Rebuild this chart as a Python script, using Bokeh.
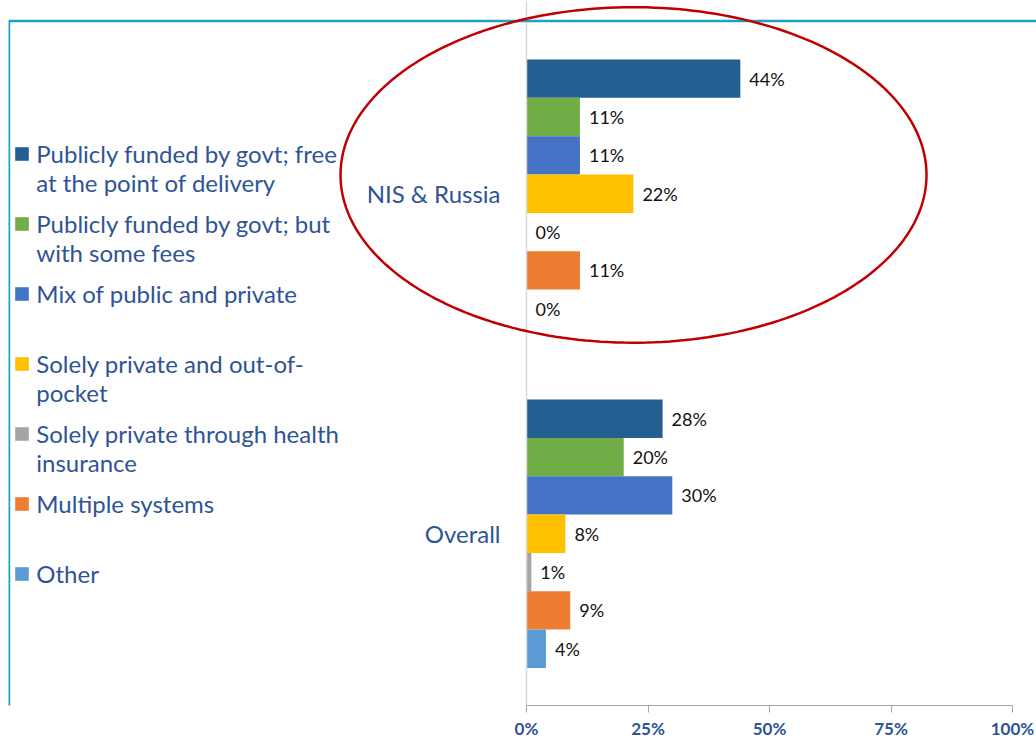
import numpy as np
from bokeh.plotting import figure
from bokeh.models import (FactorRange, Range1d, ColumnDataSource, Legend, LegendItem,
                          Span, PolyAnnotation, FixedTicker, PrintfTickFormatter)
from bokeh.transform import dodge
from bokeh.core.properties import value
from bokeh.embed import file_html
from bokeh.resources import INLINE

# ---------------- data ----------------
categories = ["Overall", "NIS & Russia"]          # bottom to top
series = [
    "Publicly funded by govt; free\nat the point of delivery",
    "Publicly funded by govt; but\nwith some fees",
    "Mix of public and private",
    "Solely private and out-of-\npocket",
    "Solely private through health\ninsurance",
    "Multiple systems",
    "Other",
]
colors = ["#255E91", "#70AD47", "#4472C4", "#FFC000", "#A5A5A5", "#ED7D31", "#5B9BD5"]
overall_values = [28, 20, 30, 8, 1, 9, 4]
nis_values = [44, 11, 11, 22, 0, 11, 0]
x_ticks = [0, 25, 50, 75, 100]

# ---------------- layout / styling ----------------
BLUE_TEXT = "#2F5496"
FONT = "Lato"
W, H = 1036, 741
FRAME_L, FRAME_B = 8, 706          # frame spans the full height down to the axis line
PX_PER_UNIT = 4.86
X0 = 526
x_start = -(X0 - FRAME_L) / PX_PER_UNIT
x_end = (W - X0) / PX_PER_UNIT
RANGE_PAD = 0.0367
pitch = FRAME_B / (2 + 2 * RANGE_PAD)


def syn(py):
    """pixel row -> synthetic categorical coordinate"""
    return 2 + RANGE_PAD - py / pitch


GROUP_SHIFT = syn(193.5) - 1.5

p = figure(width=W, height=H, output_backend="svg", toolbar_location=None,
           x_range=Range1d(x_start, x_end),
           y_range=FactorRange(*categories, range_padding=RANGE_PAD),
           y_axis_location=None, min_border_left=FRAME_L, min_border_right=0,
           min_border_top=0, min_border_bottom=H - FRAME_B, outline_line_color=None,
           background_fill_color="white", border_fill_color="white")
p.xgrid.visible = False
p.ygrid.visible = False

bar_h = 38.4 / pitch
n = len(series)
renderers = []
for i in range(n):
    off = GROUP_SHIFT + (3 - i) * bar_h
    vals = [overall_values[i], nis_values[i]]
    src = ColumnDataSource(dict(cat=categories, val=vals, lab=[f"{v}%" for v in vals]))
    r = p.hbar(y=dodge("cat", off, range=p.y_range), left=0, right="val", height=bar_h,
               source=src, fill_color=colors[i], line_color=None)
    p.text(x="val", y=dodge("cat", off, range=p.y_range), text="lab", source=src,
           x_offset=9, text_align="left", text_baseline="middle",
           text_font=value(FONT), text_font_size="18px", text_color="#111111")
    renderers.append(r)

# category labels
cat_src = ColumnDataSource(dict(cat=categories, x=[0] * len(categories)))
p.text(x="x", y=dodge("cat", GROUP_SHIFT, range=p.y_range), text="cat", source=cat_src,
       x_offset=-26, text_align="right", text_baseline="middle",
       text_font=value(FONT), text_font_size="24px", text_color=BLUE_TEXT)

# vertical category axis line
p.add_layout(Span(location=0, dimension="height", line_color="#D9D9D9", line_width=1.5))

# x axis
ax = p.xaxis[0]
ax.ticker = FixedTicker(ticks=x_ticks)
ax.formatter = PrintfTickFormatter(format="%d%%")
ax.bounds = (0, 100)
ax.axis_line_color = "#A6A6A6"
ax.major_tick_line_color = "#A6A6A6"
ax.major_tick_out = 7
ax.major_tick_in = 0
ax.minor_tick_line_color = None
ax.major_label_standoff = 5
ax.major_label_text_font = FONT
ax.major_label_text_font_size = "17px"
ax.major_label_text_font_style = "bold"
ax.major_label_text_color = BLUE_TEXT

# legend: texts (two lines per entry, each entry 70px apart)
ITEM_H, SPACING = 60, 10
legend_h = n * ITEM_H + (n - 1) * SPACING
labels = [s if "\n" in s else s + "\n " for s in series]
text_top = 154 - 15
legend_text = Legend(items=[LegendItem(label=labels[i], renderers=[renderers[i]]) for i in range(n)],
                     location=(5.3, FRAME_B - (text_top + legend_h)), padding=0, margin=0,
                     spacing=SPACING, glyph_width=1, glyph_height=1, label_height=ITEM_H,
                     label_standoff=22, label_text_font=FONT, label_text_font_size="24px",
                     label_text_color=BLUE_TEXT, label_text_line_height=30 / 24,
                     border_line_color=None, background_fill_alpha=0)
# legend: colour swatches aligned with the first text line of each entry
swatch_top = 154 - ITEM_H / 2
legend_sw = Legend(items=[LegendItem(label=" ", renderers=[renderers[i]]) for i in range(n)],
                   location=(5.3, FRAME_B - (swatch_top + legend_h)), padding=0, margin=0,
                   spacing=SPACING, glyph_width=17, glyph_height=17, label_height=ITEM_H,
                   label_standoff=0, label_text_font_size="4px",
                   border_line_color=None, background_fill_alpha=0)
p.add_layout(legend_text)
p.add_layout(legend_sw)

# teal frame border (left and top edges)
p.add_layout(PolyAnnotation(xs=[x_start + 0.1, x_start + 0.1, x_end + 50, x_end + 50],
                            ys=[syn(900), syn(20.5), syn(20.5), syn(900)], fill_alpha=0,
                            line_color="#19A3C5", line_alpha=1, line_width=2.5))

# red highlight ellipse around the NIS & Russia group
t = np.linspace(0, 2 * np.pi, 240)
cx, rx = (633 - X0) / PX_PER_UNIT, 293 / PX_PER_UNIT
cy, ry = syn(174.7), 168 / pitch
p.add_layout(PolyAnnotation(xs=list(cx + rx * np.cos(t)), ys=list(cy + ry * np.sin(t)),
                            fill_alpha=0, line_color="#C00000", line_alpha=1, line_width=2.5))

open("out.html", "w").write(file_html(p, INLINE))
